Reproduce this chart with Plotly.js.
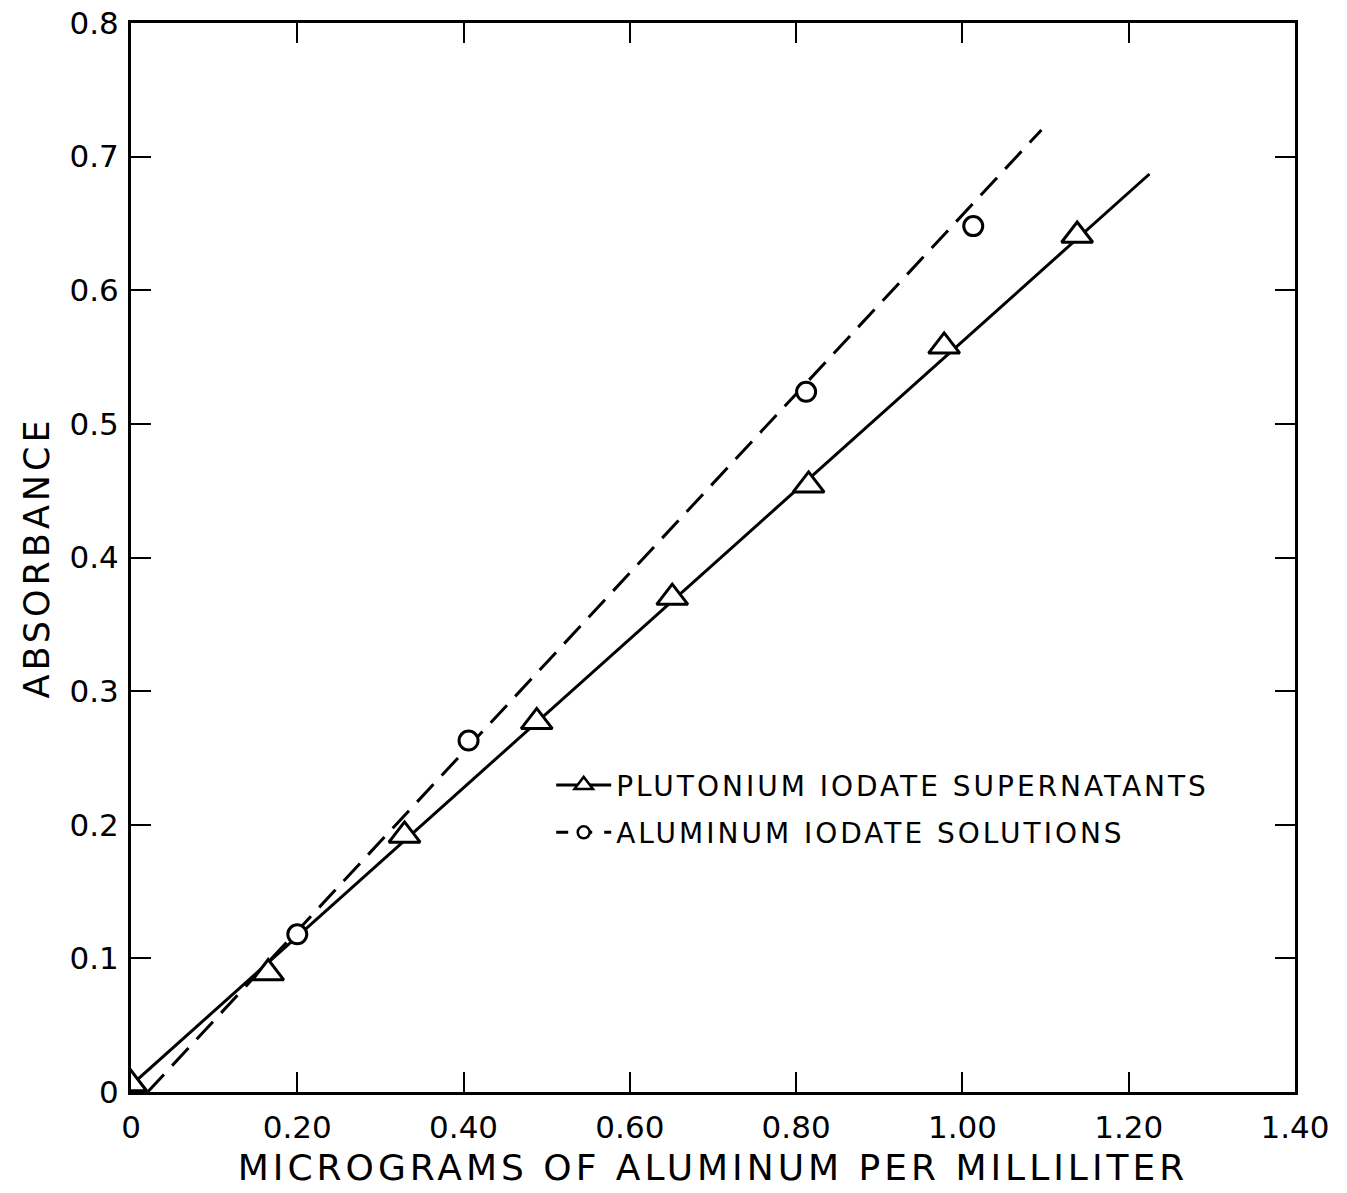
<!DOCTYPE html>
<html><head><meta charset="utf-8">
<script src="https://cdn.plot.ly/plotly-3.0.1.min.js"></script>
<style>
body{margin:0;background:#fff;}
.xtitle,.ytitle{letter-spacing:4px;}
.legendtext{letter-spacing:3px;}
</style>
</head><body>
<div id="chart" style="width:1347px;height:1193px;"></div>
<script>
// Plutonium iodate supernatants (triangles)
const puX = [0.0, 0.165, 0.329, 0.488, 0.651, 0.815, 0.978, 1.138];
const puY = [0.006, 0.089, 0.192, 0.277, 0.370, 0.454, 0.558, 0.641];
// Aluminum iodate solutions (circles)
const alX = [0.20, 0.406, 0.812, 1.013];
const alY = [0.118, 0.263, 0.524, 0.648];
// Fitted lines (end points)
const puFitX = [0.0, 1.225];
const puFitY = [0.005, 0.687];
const alFitX = [0.02, 1.095];
const alFitY = [0.0, 0.720];
// Tick labels
const xTickVals = [0, 0.2, 0.4, 0.6, 0.8, 1.0, 1.2, 1.4];
const xTickText = ["0", "0.20", "0.40", "0.60", "0.80", "1.00", "1.20", "1.40"];
const yTickVals = [0, 0.1, 0.2, 0.3, 0.4, 0.5, 0.6, 0.7, 0.8];
const yTickText = ["0", "0.1", "0.2", "0.3", "0.4", "0.5", "0.6", "0.7", "0.8"];
const legendNames = ["PLUTONIUM IODATE SUPERNATANTS", "ALUMINUM IODATE SOLUTIONS"];

const FONT = "DejaVu Sans, sans-serif";
const traces = [
  {x: alFitX, y: alFitY, mode: 'lines', line: {color: '#000', width: 3, dash: '24px,12px'}, showlegend: false, hoverinfo: 'skip'},
  {x: puFitX, y: puFitY, mode: 'lines', line: {color: '#000', width: 3}, showlegend: false, hoverinfo: 'skip'},
  {x: puX, y: puY, mode: 'markers', showlegend: false,
   marker: {symbol: 'triangle-up', size: 27, color: '#fff', line: {color: '#000', width: 3}}},
  {x: alX, y: alY, mode: 'markers', showlegend: false,
   marker: {symbol: 'circle', size: 19, color: '#fff', line: {color: '#000', width: 3}}},
  {x: [null], y: [null], mode: 'lines+markers', name: legendNames[0], legendgroup: 'a',
   line: {color: '#000', width: 3}, marker: {symbol: 'triangle-up', size: 16, color: '#fff', line: {color: '#000', width: 2.5}}},
  {x: [null], y: [null], mode: 'lines+markers', name: legendNames[1], legendgroup: 'b',
   line: {color: '#000', width: 3, dash: '12px,12px'}, marker: {symbol: 'circle', size: 12, color: '#fff', line: {color: '#000', width: 2.5}}}
];

const axisCommon = {
  showline: true, linecolor: '#000', linewidth: 3, mirror: 'ticks',
  ticks: 'inside', ticklen: 20, tickwidth: 2, tickcolor: '#000',
  showgrid: false, zeroline: false,
  tickfont: {family: FONT, size: 31, color: '#000'}
};

const layout = {
  width: 1347, height: 1193,
  margin: {l: 131, r: 52, t: 23, b: 101},
  paper_bgcolor: '#fff', plot_bgcolor: '#fff',
  showlegend: true,
  legend: {x: 0.361, y: 0.265, xanchor: 'left', yanchor: 'middle', bgcolor: 'rgba(0,0,0,0)',
    font: {family: FONT, size: 28, color: '#000'}, tracegroupgap: 8, itemwidth: 55},
  xaxis: Object.assign({}, axisCommon, {
    range: [0, 1.4], tickvals: xTickVals, ticktext: xTickText, ticklabelstandoff: 6,
    title: {text: 'MICROGRAMS OF ALUMINUM PER MILLILITER', font: {family: FONT, size: 36, color: '#000'}, standoff: 11}
  }),
  yaxis: Object.assign({}, axisCommon, {
    range: [0, 0.8], tickvals: yTickVals, ticktext: yTickText, ticklabelstandoff: 3,
    title: {text: 'ABSORBANCE', font: {family: FONT, size: 35, color: '#000'}, standoff: 10}
  })
};

Plotly.newPlot('chart', traces, layout, {displayModeBar: false, staticPlot: true});
</script>
</body></html>
